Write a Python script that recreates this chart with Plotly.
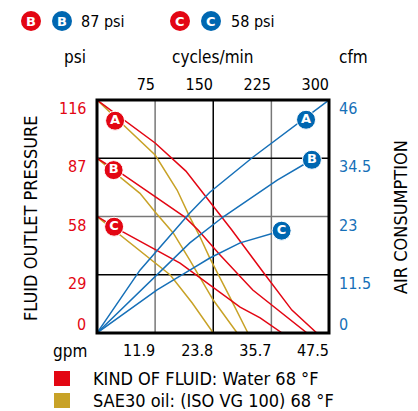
import plotly.graph_objects as go

# ---------------- data ----------------
gpm_ticks = [11.9, 23.8, 35.7, 47.5]
cycles_ticks = [75, 150, 225, 300]
psi_ticks = [0, 29, 58, 87, 116]
psi_tick_labels = ["0", "29", "58", "87", "116"]
cfm_ticks = [0, 11.5, 23, 34.5, 46]
cfm_tick_labels = ["0", "11.5", "23", "34.5", "46"]

water_A_gpm = [0, 11.9, 18.2, 22.5, 27.6, 34.0, 39.9, 45.0]
water_A_psi = [116, 94.6, 80.6, 67.2, 51.3, 30.4, 11.4, 0]
water_B_gpm = [0, 4.9, 18.0, 20.7, 25.2, 31.9, 43.0]
water_B_psi = [87, 79.6, 57.7, 51.3, 38.8, 21.4, 0]
water_C_gpm = [0, 5.3, 17.0, 21.1, 29.3, 33.4, 37.9]
water_C_psi = [58, 50.3, 34.8, 27.4, 12.9, 7.5, 0]

oil_A_gpm = [0, 11.9, 16.4, 19.0, 21.1, 23.1, 27.0, 30.9]
oil_A_psi = [116, 88.6, 71.2, 57.7, 47.8, 37.3, 18.9, 0]
oil_B_gpm = [0, 8.8, 11.9, 15.6, 19.0, 23.8, 28.7]
oil_B_psi = [87, 69.5, 60.2, 49.8, 36.3, 16.4, 0]
oil_C_gpm = [0, 6.8, 11.3, 15.0, 19.5, 23.8]
oil_C_psi = [58, 44.8, 36.3, 28.9, 14.9, 0]

air_A_gpm = [0, 8.8, 19.0, 23.1, 31.9, 47.5]
air_A_cfm = [0, 12.4, 23.7, 27.8, 34.7, 46.0]
air_B_gpm = [0, 12.3, 19.0, 25.8, 36.9, 44.0]
air_B_cfm = [0, 11.5, 17.8, 22.9, 30.2, 34.2]
air_C_gpm = [0, 12.3, 19.0, 23.1, 29.3, 37.8]
air_C_cfm = [0, 8.5, 12.4, 14.8, 17.8, 20.2]

badge_letters = ["A", "B", "C"]
water_badge_gpm = [3.7, 3.4, 3.5]
water_badge_psi = [105.7, 81.1, 52.9]
air_badge_gpm = [42.8, 44.0, 37.8]
air_badge_cfm = [42.1, 34.2, 20.2]

legend_letters = ["B", "C"]
legend_pressures = ["87 psi", "58 psi"]
fluid_labels = ["KIND OF FLUID: Water 68 °F", "SAE30 oil: (ISO VG 100) 68 °F"]

# ---------------- style ----------------
RED = "#e30613"
BLUE = "#1670b8"
BLUE_BADGE = "#0067b1"
OIL = "#c8a227"
FONT = "DejaVu Sans Condensed, Liberation Sans Narrow, sans-serif"
BADGE_FONT = dict(color="white", size=13, family="DejaVu Sans, sans-serif")

W, H = 418, 411
L, R, T, B = 97, 329, 100, 333


def px(x):
    return (x - L) / (R - L)


def py(y):
    return (B - y) / (B - T)


fig = go.Figure()

line_w = 1.5
for gx, gy in [(oil_A_gpm, oil_A_psi), (oil_B_gpm, oil_B_psi), (oil_C_gpm, oil_C_psi)]:
    fig.add_trace(go.Scatter(x=gx, y=gy, mode="lines", line=dict(color=OIL, width=line_w),
                             showlegend=False, hoverinfo="skip"))
for gx, gy in [(water_A_gpm, water_A_psi), (water_B_gpm, water_B_psi), (water_C_gpm, water_C_psi)]:
    fig.add_trace(go.Scatter(x=gx, y=gy, mode="lines", line=dict(color=RED, width=line_w),
                             showlegend=False, hoverinfo="skip"))
for gx, gy in [(air_A_gpm, air_A_cfm), (air_B_gpm, air_B_cfm), (air_C_gpm, air_C_cfm)]:
    fig.add_trace(go.Scatter(x=gx, y=gy, mode="lines", line=dict(color=BLUE, width=line_w),
                             yaxis="y2", showlegend=False, hoverinfo="skip"))

badge_text = ["<b>%s</b>" % s for s in badge_letters]
fig.add_trace(go.Scatter(x=water_badge_gpm, y=water_badge_psi, mode="markers+text",
                         marker=dict(size=19, color=RED, line=dict(color="white", width=1)),
                         text=badge_text, textposition="middle center", textfont=BADGE_FONT,
                         showlegend=False, hoverinfo="skip"))
fig.add_trace(go.Scatter(x=air_badge_gpm, y=air_badge_cfm, mode="markers+text", yaxis="y2",
                         marker=dict(size=19, color=BLUE_BADGE, line=dict(color="white", width=1)),
                         text=badge_text, textposition="middle center", textfont=BADGE_FONT,
                         showlegend=False, hoverinfo="skip"))
# invisible trace so the top cycles axis is drawn
fig.add_trace(go.Scatter(x=[0, 300], y=[None, None], xaxis="x2", mode="lines",
                         showlegend=False, hoverinfo="skip"))

shapes = []
grid_x_colors = ["#777777", "#000000", "#777777"]
for v, c in zip(gpm_ticks[:-1], grid_x_colors):
    shapes.append(dict(type="line", xref="x", yref="paper", x0=v, x1=v, y0=0, y1=1,
                       line=dict(color=c, width=1.5), layer="below"))
grid_y_colors = ["#000000", "#777777", "#000000"]
for v, c in zip(psi_ticks[1:-1], grid_y_colors):
    shapes.append(dict(type="line", xref="paper", yref="y", x0=0, x1=1, y0=v, y1=v,
                       line=dict(color=c, width=1.5), layer="below"))
shapes.append(dict(type="rect", xref="paper", yref="paper", x0=0, x1=1, y0=0, y1=1,
                   line=dict(color="black", width=3)))

annotations = []
tick_font = dict(family=FONT, size=16)
for v, t in zip(psi_ticks, psi_tick_labels):
    annotations.append(dict(xref="paper", yref="y", x=0, y=v, text=t, showarrow=False,
                            xanchor="right", yanchor="top" if v > 0 else "bottom",
                            xshift=-9, yshift=3 if v > 0 else -3,
                            font=dict(tick_font, color=RED)))
for v, t in zip(cfm_ticks, cfm_tick_labels):
    annotations.append(dict(xref="paper", yref="y2", x=1, y=v, text=t, showarrow=False,
                            xanchor="left", yanchor="top" if v > 0 else "bottom",
                            xshift=8, yshift=3 if v > 0 else -3,
                            font=dict(tick_font, color=BLUE)))

title_font = dict(family=FONT, size=17, color="black")
for text, x, y in [("psi", 75, 57), ("cycles/min", 213, 57), ("cfm", 353, 57), ("gpm", 70, 351)]:
    annotations.append(dict(xref="paper", yref="paper", x=px(x), y=py(y), text=text,
                            showarrow=False, xanchor="center", yanchor="middle", font=title_font))
vt_font = dict(family=FONT, size=18, color="black")
annotations.append(dict(xref="paper", yref="paper", x=px(30), y=py(218), text="FLUID OUTLET PRESSURE",
                        textangle=-90, showarrow=False, xanchor="center", yanchor="middle", font=vt_font))
annotations.append(dict(xref="paper", yref="paper", x=px(400), y=py(217), text="AIR CONSUMPTION",
                        textangle=-90, showarrow=False, xanchor="center", yanchor="middle", font=vt_font))

# top legend (pressure badges)
for i, (letter, label) in enumerate(zip(legend_letters, legend_pressures)):
    cx_red = 31 + i * 149
    cx_blue = 62 + i * 149
    for cx, col in [(cx_red, RED), (cx_blue, BLUE_BADGE)]:
        shapes.append(dict(type="circle", xref="paper", yref="paper", xsizemode="pixel",
                           ysizemode="pixel", xanchor=px(cx), yanchor=py(21),
                           x0=-10, x1=10, y0=-10, y1=10, fillcolor=col, line=dict(width=0)))
        annotations.append(dict(xref="paper", yref="paper", x=px(cx), y=py(21),
                                text="<b>%s</b>" % letter, showarrow=False,
                                xanchor="center", yanchor="middle", font=BADGE_FONT))
    annotations.append(dict(xref="paper", yref="paper", x=px(79 + i * 150), y=py(21), text=label,
                            showarrow=False, xanchor="left", yanchor="middle",
                            font=dict(family=FONT, size=16, color="black")))

# bottom legend (fluids)
for i, (label, col) in enumerate(zip(fluid_labels, [RED, OIL])):
    y0 = 371 + i * 22
    shapes.append(dict(type="rect", xref="paper", yref="paper", x0=px(54), x1=px(70),
                       y0=py(y0), y1=py(y0 + 15), fillcolor=col, line=dict(width=0)))
    annotations.append(dict(xref="paper", yref="paper", x=px(91), y=py(y0 + 7), text=label,
                            showarrow=False, xanchor="left", yanchor="middle",
                            font=dict(family=FONT, size=18, color="black")))

axis_tick_font = dict(family=FONT, size=16, color="black")
fig.update_layout(
    width=W, height=H,
    margin=dict(l=L, r=W - R, t=T, b=H - B, pad=0),
    paper_bgcolor="white", plot_bgcolor="white",
    xaxis=dict(range=[0, 47.5], tickvals=gpm_ticks, ticktext=[str(v) for v in gpm_ticks],
               ticklabelposition="outside left", ticks="", showgrid=False, zeroline=False,
               showline=False, tickfont=axis_tick_font, ticklabelstandoff=6, fixedrange=True),
    xaxis2=dict(range=[0, 300], overlaying="x", side="top", tickvals=cycles_ticks,
                ticklabelposition="outside left", ticks="", showgrid=False, zeroline=False,
                showline=False, tickfont=axis_tick_font, ticklabelstandoff=6, fixedrange=True),
    yaxis=dict(range=[0, 116], showticklabels=False, ticks="", showgrid=False, zeroline=False,
               showline=False, fixedrange=True),
    yaxis2=dict(range=[0, 46], overlaying="y", side="right", showticklabels=False, ticks="",
                showgrid=False, zeroline=False, showline=False, fixedrange=True),
    shapes=shapes,
    annotations=annotations,
    showlegend=False,
)

fig.write_html("out.html", config={"displayModeBar": False},
               post_script="document.body.style.margin='0px';")
